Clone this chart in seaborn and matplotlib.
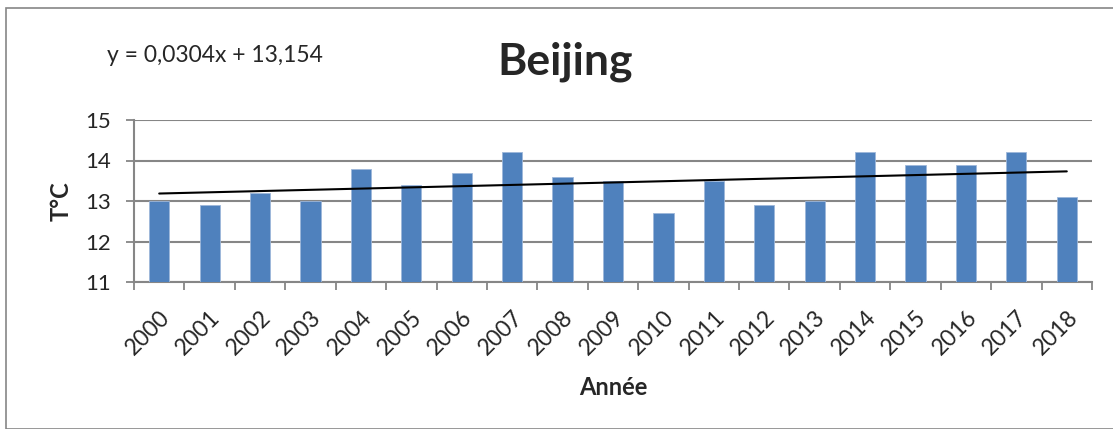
import matplotlib
matplotlib.use("Agg")
import matplotlib.pyplot as plt
import matplotlib.transforms as mtransforms
import seaborn as sns
import numpy as np
import pandas as pd
from matplotlib.patches import Rectangle

years = [str(y) for y in range(2000, 2019)]
temps = [13.0, 12.9, 13.2, 13.0, 13.8, 13.4, 13.7, 14.2, 13.6, 13.5,
         12.7, 13.5, 12.9, 13.0, 14.2, 13.9, 13.9, 14.2, 13.1]
trend_slope = 0.0304
trend_intercept = 13.154
title = "Beijing"
equation = "y = 0,0304x + 13,154"
xlabel = "Année"
ylabel = "T°C"
yticks = [11, 12, 13, 14, 15]

sns.set_theme(style="white")
plt.rcParams['font.family'] = ['Lato', 'DejaVu Sans']

df = pd.DataFrame({"year": years, "temp": temps})

W, H = 1113, 429
fig = plt.figure(figsize=(W/100, H/100), dpi=100)
ax = fig.add_axes([134/W, 1-282/H, (1092-134)/W, (282-120)/H])

sns.barplot(data=df, x="year", y="temp", color="#4F81BD", width=0.4,
            saturation=1, edgecolor="#9DB7DA", linewidth=0.6, ax=ax, zorder=3)

xs = np.arange(len(years))
trend = trend_slope * (xs + 1) + trend_intercept
ax.plot(xs, trend, color="black", lw=1.5, zorder=4)

ax.set_ylim(11, 15)
ax.set_xlim(-0.5, len(years) - 0.5)
ax.set_yticks(yticks)
ax.set_yticklabels([str(v) for v in yticks], fontsize=16)
ax.yaxis.grid(True, color="#868686", lw=1.5, zorder=0)
ax.set_axisbelow(True)

ax.set_xticks(xs)
ax.set_xticklabels(years, rotation=45, ha="right", va="top",
                   rotation_mode="anchor", fontsize=16.5)
offset = mtransforms.ScaledTranslation(-11/100, 0, fig.dpi_scale_trans)
for lab in ax.get_xticklabels():
    lab.set_transform(lab.get_transform() + offset)
ax.set_xticks(np.arange(-0.5, len(years)), minor=True)
ax.tick_params(axis="x", which="major", length=0, pad=18)
ax.tick_params(axis="x", which="minor", length=6, width=1.3, color="#868686", direction="out")
ax.tick_params(axis="y", which="major", length=5.8, width=1.3, color="#868686", direction="out", pad=11)
ax.tick_params(bottom=True, left=True)
ax.xaxis.set_tick_params(which="minor", bottom=True)

for s in ["top", "right"]:
    ax.spines[s].set_visible(False)
for s in ["left", "bottom"]:
    ax.spines[s].set_color("#868686")
    ax.spines[s].set_linewidth(1.5)

ax.set_xlabel(xlabel, fontsize=17, fontweight="bold")
ax.xaxis.label.set_va("center")
ax.xaxis.set_label_coords(0.5, (282-388)/162)
ax.set_ylabel(ylabel, fontsize=17, fontweight="bold")
ax.yaxis.label.set_va("center")
ax.yaxis.set_label_coords((61-134)/958, 0.5)

fig.text(565/W, 1-62/H, title, fontsize=32, fontweight="bold", ha="center", va="center")
fig.text(107/W, 1-55/H, equation, fontsize=16.5, ha="left", va="center")

fig.patches.append(Rectangle((6/W, 0), 1.2, 1-8/H, transform=fig.transFigure,
                             fill=False, edgecolor="#868686", lw=1.2))

fig.savefig("out.png", dpi=100, facecolor="white")
